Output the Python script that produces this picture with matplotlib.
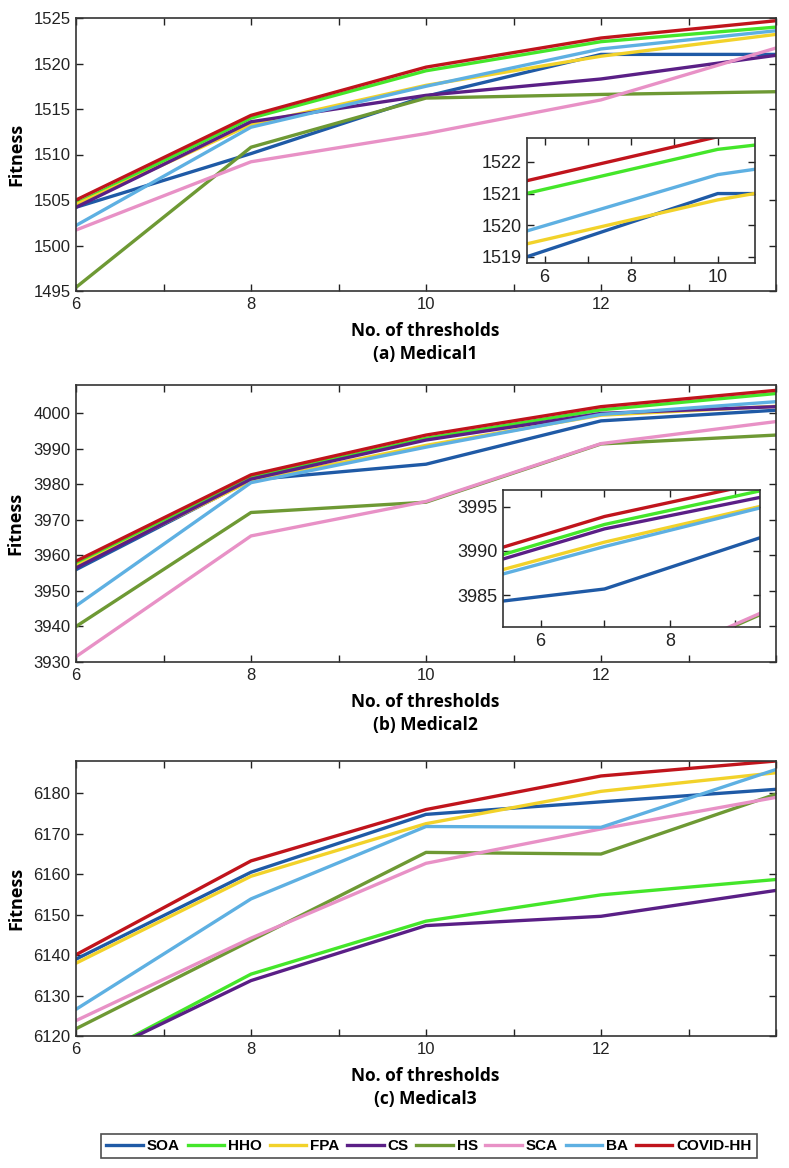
import matplotlib.pyplot as plt
import numpy as np

plt.rcParams['font.family'] = ['Liberation Sans', 'DejaVu Sans']

thresholds = [6, 8, 10, 12, 14]
names = ['SOA', 'HHO', 'FPA', 'CS', 'HS', 'SCA', 'BA', 'COVID-HH']
colors = ['#1f5aa6', '#44e62a', '#f2d22a', '#5a1f86', '#6e9934', '#e891c6', '#5eb0e2', '#c0141c']

# (a) Medical1
soa1 = [1504.2, 1510.1, 1516.4, 1521.0, 1521.0]
hho1 = [1504.6, 1514.0, 1519.2, 1522.4, 1524.0]
fpa1 = [1504.5, 1513.3, 1517.6, 1520.8, 1523.2]
cs1 = [1504.2, 1513.6, 1516.5, 1518.3, 1520.9]
hs1 = [1495.4, 1510.8, 1516.2, 1516.6, 1516.9]
sca1 = [1501.7, 1509.2, 1512.3, 1516.0, 1521.7]
ba1 = [1502.2, 1513.0, 1517.5, 1521.6, 1523.6]
cov1 = [1505.0, 1514.3, 1519.6, 1522.8, 1524.7]

# (b) Medical2
soa2 = [3956.0, 3981.3, 3985.7, 3997.9, 4000.9]
hho2 = [3957.5, 3982.0, 3993.0, 4001.0, 4005.6]
fpa2 = [3957.0, 3981.0, 3991.0, 3999.5, 4002.0]
cs2 = [3956.5, 3981.5, 3992.5, 4000.0, 4001.9]
hs2 = [3940.0, 3972.1, 3975.0, 3991.4, 3993.9]
sca2 = [3931.5, 3965.5, 3975.2, 3991.5, 3997.7]
ba2 = [3945.8, 3980.5, 3990.5, 3999.7, 4003.3]
cov2 = [3958.4, 3982.7, 3993.9, 4001.9, 4006.5]

# (c) Medical3
soa3 = [6139.0, 6160.5, 6174.8, 6177.9, 6181.0]
hho3 = [6112.5, 6135.3, 6148.4, 6154.9, 6158.7]
fpa3 = [6138.0, 6159.5, 6172.5, 6180.5, 6185.1]
cs3 = [6112.8, 6133.7, 6147.3, 6149.6, 6156.0]
hs3 = [6121.8, 6143.6, 6165.4, 6165.0, 6179.8]
sca3 = [6123.8, 6144.2, 6162.7, 6171.2, 6179.0]
ba3 = [6126.6, 6153.9, 6171.8, 6171.6, 6185.9]
cov3 = [6140.1, 6163.3, 6176.0, 6184.3, 6188.0]

panels = [
    dict(series=[soa1, hho1, fpa1, cs1, hs1, sca1, ba1, cov1], ylim=(1495, 1525),
         yticks=np.arange(1495, 1526, 5), title='(a) Medical1', top=18, bottom=291),
    dict(series=[soa2, hho2, fpa2, cs2, hs2, sca2, ba2, cov2], ylim=(3930, 4008),
         yticks=np.arange(3930, 4001, 10), title='(b) Medical2', top=385, bottom=662),
    dict(series=[soa3, hho3, fpa3, cs3, hs3, sca3, ba3, cov3], ylim=(6120, 6188),
         yticks=np.arange(6120, 6181, 10), title='(c) Medical3', top=761, bottom=1036),
]

W, H = 789, 1168
fig = plt.figure(figsize=(W / 100, H / 100), dpi=100)

def style(ax, size=12):
    ax.tick_params(direction='in', top=True, right=True, length=5, width=1,
                   labelsize=size, colors='#222222', pad=4)
    for s in ax.spines.values():
        s.set_color('#333333')
        s.set_linewidth(1.2)

axes = []
for p in panels:
    ax = fig.add_axes([76 / W, 1 - p['bottom'] / H, 700 / W, (p['bottom'] - p['top']) / H])
    for ser, c, n in zip(p['series'], colors, names):
        ax.plot(thresholds, ser, color=c, lw=2.4, label=n)
    ax.set_xlim(6, 14)
    ax.set_ylim(*p['ylim'])
    ax.set_xticks(range(6, 15))
    ax.set_xticklabels(['6', '', '8', '', '10', '', '12', '', ''])
    ax.set_yticks(p['yticks'])
    style(ax)
    ax.set_ylabel('Fitness', fontsize=13, fontweight='bold', family=['Open Sans', 'DejaVu Sans'],
                  labelpad=6)
    fig.text(425 / W, 1 - (p['bottom'] + 40) / H, 'No. of thresholds', ha='center', va='center',
             fontsize=12.5, fontweight='bold', family=['Open Sans', 'DejaVu Sans'])
    fig.text(425 / W, 1 - (p['bottom'] + 63) / H, p['title'], ha='center', va='center',
             fontsize=12.5, fontweight='bold', family=['Open Sans', 'DejaVu Sans'])
    axes.append(ax)

# insets
ins_a = fig.add_axes([527 / W, 1 - 263 / H, 228 / W, 125 / H])
for ser, c in zip(panels[0]['series'], colors):
    ins_a.plot(thresholds, ser, color=c, lw=2.4)
ins_a.set_xlim(11.13, 12.17)
ins_a.set_ylim(1518.8, 1522.76)
ins_a.set_xticks([11.21, 11.41, 11.605, 11.80, 12.0])
ins_a.set_xticklabels(['6', '', '8', '', '10'])
ins_a.set_yticks([1519, 1520, 1521, 1522])
style(ins_a, 13)

ins_b = fig.add_axes([503 / W, 1 - 627 / H, 257 / W, 137 / H])
for ser, c in zip(panels[1]['series'], colors):
    ins_b.plot(thresholds, ser, color=c, lw=2.4)
ins_b.set_xlim(9.38, 10.95)
ins_b.set_ylim(3981.4, 3996.9)
ins_b.set_xticks([9.61, 10.0, 10.4, 10.8])
ins_b.set_xticklabels(['6', '', '8', ''])
ins_b.set_yticks([3985, 3990, 3995])
style(ins_b, 13)

handles, labels = axes[0].get_legend_handles_labels()
leg = fig.legend(handles, labels, loc='center', bbox_to_anchor=(429 / W, 1 - 1146 / H), ncol=8,
                 frameon=True, fancybox=False, edgecolor='#222222', handlelength=2.4,
                 handletextpad=0.25, columnspacing=0.5, borderpad=0.35, borderaxespad=0,
                 prop={'weight': 'bold', 'size': 11, 'family': ['Liberation Sans', 'DejaVu Sans']})
leg.get_frame().set_linewidth(1.2)

fig.savefig('out.png', dpi=100)
